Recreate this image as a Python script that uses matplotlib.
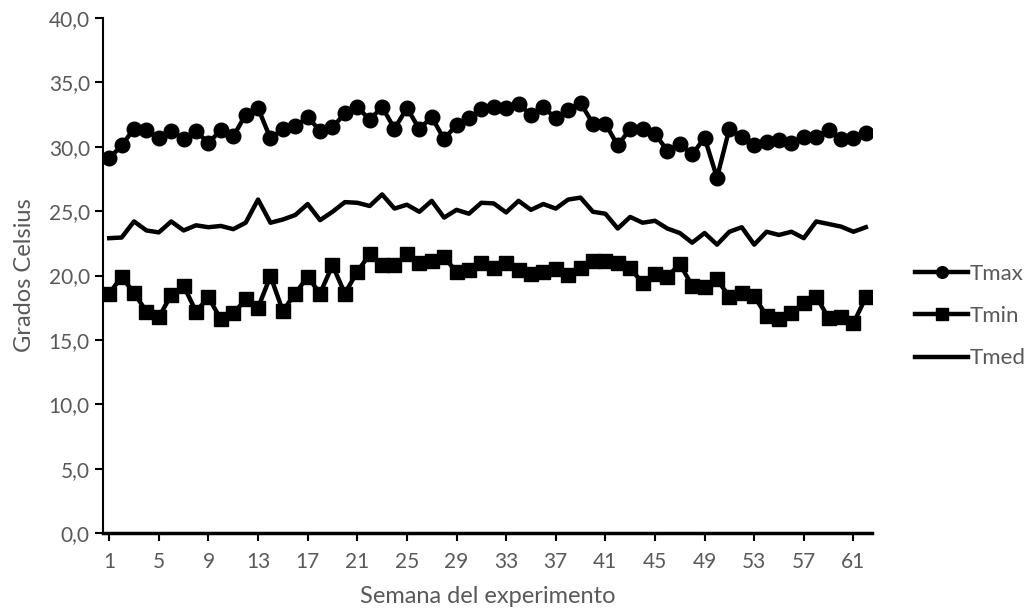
import matplotlib
matplotlib.use("Agg")
import matplotlib.pyplot as plt
from matplotlib.ticker import FuncFormatter

plt.rcParams['font.family'] = ['Lato', 'DejaVu Sans']

semanas = list(range(1, 63))

tmax = [29.1, 30.1, 31.4, 31.3, 30.65, 31.25, 30.6, 31.2, 30.3, 31.3,
        30.8, 32.5, 33.0, 30.65, 31.4, 31.6, 32.3, 31.25, 31.5, 32.6,
        33.1, 32.1, 33.1, 31.4, 33.0, 31.4, 32.3, 30.6, 31.7, 32.2,
        32.9, 33.1, 33.05, 33.3, 32.5, 33.1, 32.2, 32.85, 33.4, 31.8,
        31.8, 30.1, 31.4, 31.35, 31.0, 29.7, 30.2, 29.4, 30.7, 27.6,
        31.4, 30.75, 30.1, 30.4, 30.55, 30.3, 30.75, 30.75, 31.3, 30.6,
        30.65, 31.1]

tmin = [18.6, 19.9, 18.65, 17.2, 16.75, 18.5, 19.2, 17.2, 18.3, 16.6,
        17.05, 18.15, 17.5, 19.95, 17.25, 18.6, 19.9, 18.6, 20.8, 18.6,
        20.3, 21.65, 20.8, 20.8, 21.65, 20.95, 21.15, 21.4, 20.3, 20.4,
        21.0, 20.55, 20.95, 20.45, 20.1, 20.3, 20.5, 20.05, 20.6, 21.15,
        21.15, 20.95, 20.55, 19.45, 20.1, 19.9, 20.9, 19.2, 19.1, 19.7,
        18.35, 18.65, 18.4, 16.85, 16.6, 17.1, 17.85, 18.35, 16.7, 16.75,
        16.3, 18.3]

tmed = [22.9, 22.95, 24.2, 23.5, 23.35, 24.2, 23.5, 23.9, 23.75, 23.85,
        23.6, 24.1, 25.9, 24.1, 24.35, 24.7, 25.55, 24.3, 24.95, 25.7,
        25.65, 25.4, 26.3, 25.2, 25.5, 24.95, 25.8, 24.5, 25.1, 24.8,
        25.65, 25.6, 24.9, 25.8, 25.1, 25.55, 25.2, 25.9, 26.05, 24.95,
        24.8, 23.65, 24.55, 24.1, 24.25, 23.65, 23.3, 22.55, 23.3, 22.4,
        23.4, 23.75, 22.4, 23.4, 23.15, 23.4, 22.9, 24.2, 24.0, 23.8,
        23.4, 23.75]

gris = '#595959'

fig = plt.figure(figsize=(10.24, 6.09), dpi=100)
ax = fig.add_axes([0.1006, 0.1248, 0.7510, 0.8456])

ax.plot(semanas, tmax, color='black', lw=3.2, marker='o', ms=10.5, label='Tmax')
ax.plot(semanas, tmin, color='black', lw=3.2, marker='s', ms=10, label='Tmin')
ax.plot(semanas, tmed, color='black', lw=3.2, label='Tmed')

ax.set_xlim(0.5, 62.5)
ax.set_ylim(0, 40)
ax.set_xticks(range(1, 63, 4))
ax.set_yticks(range(0, 41, 5))
ax.yaxis.set_major_formatter(FuncFormatter(lambda v, p: f'{v:.1f}'.replace('.', ',')))

for s in ['top', 'right']:
    ax.spines[s].set_visible(False)
ax.spines['left'].set_linewidth(1.5)
ax.spines['bottom'].set_linewidth(2.5)
ax.tick_params(axis='both', colors='black', labelcolor=gris, labelsize=15,
               width=1.5, length=6)
ax.tick_params(axis='x', pad=8)

ax.set_xlabel('Semana del experimento', color=gris, fontsize=17, labelpad=10)
ax.set_ylabel('Grados Celsius', color=gris, fontsize=17, labelpad=10)

leg = ax.legend(loc='center left', bbox_to_anchor=(1.056, 0.421), frameon=False,
                fontsize=16, handlelength=2.4, handletextpad=0.05,
                labelspacing=1.0, markerscale=0.8, borderpad=0, borderaxespad=0)
for t in leg.get_texts():
    t.set_color(gris)

fig.savefig('out.png', dpi=100)
